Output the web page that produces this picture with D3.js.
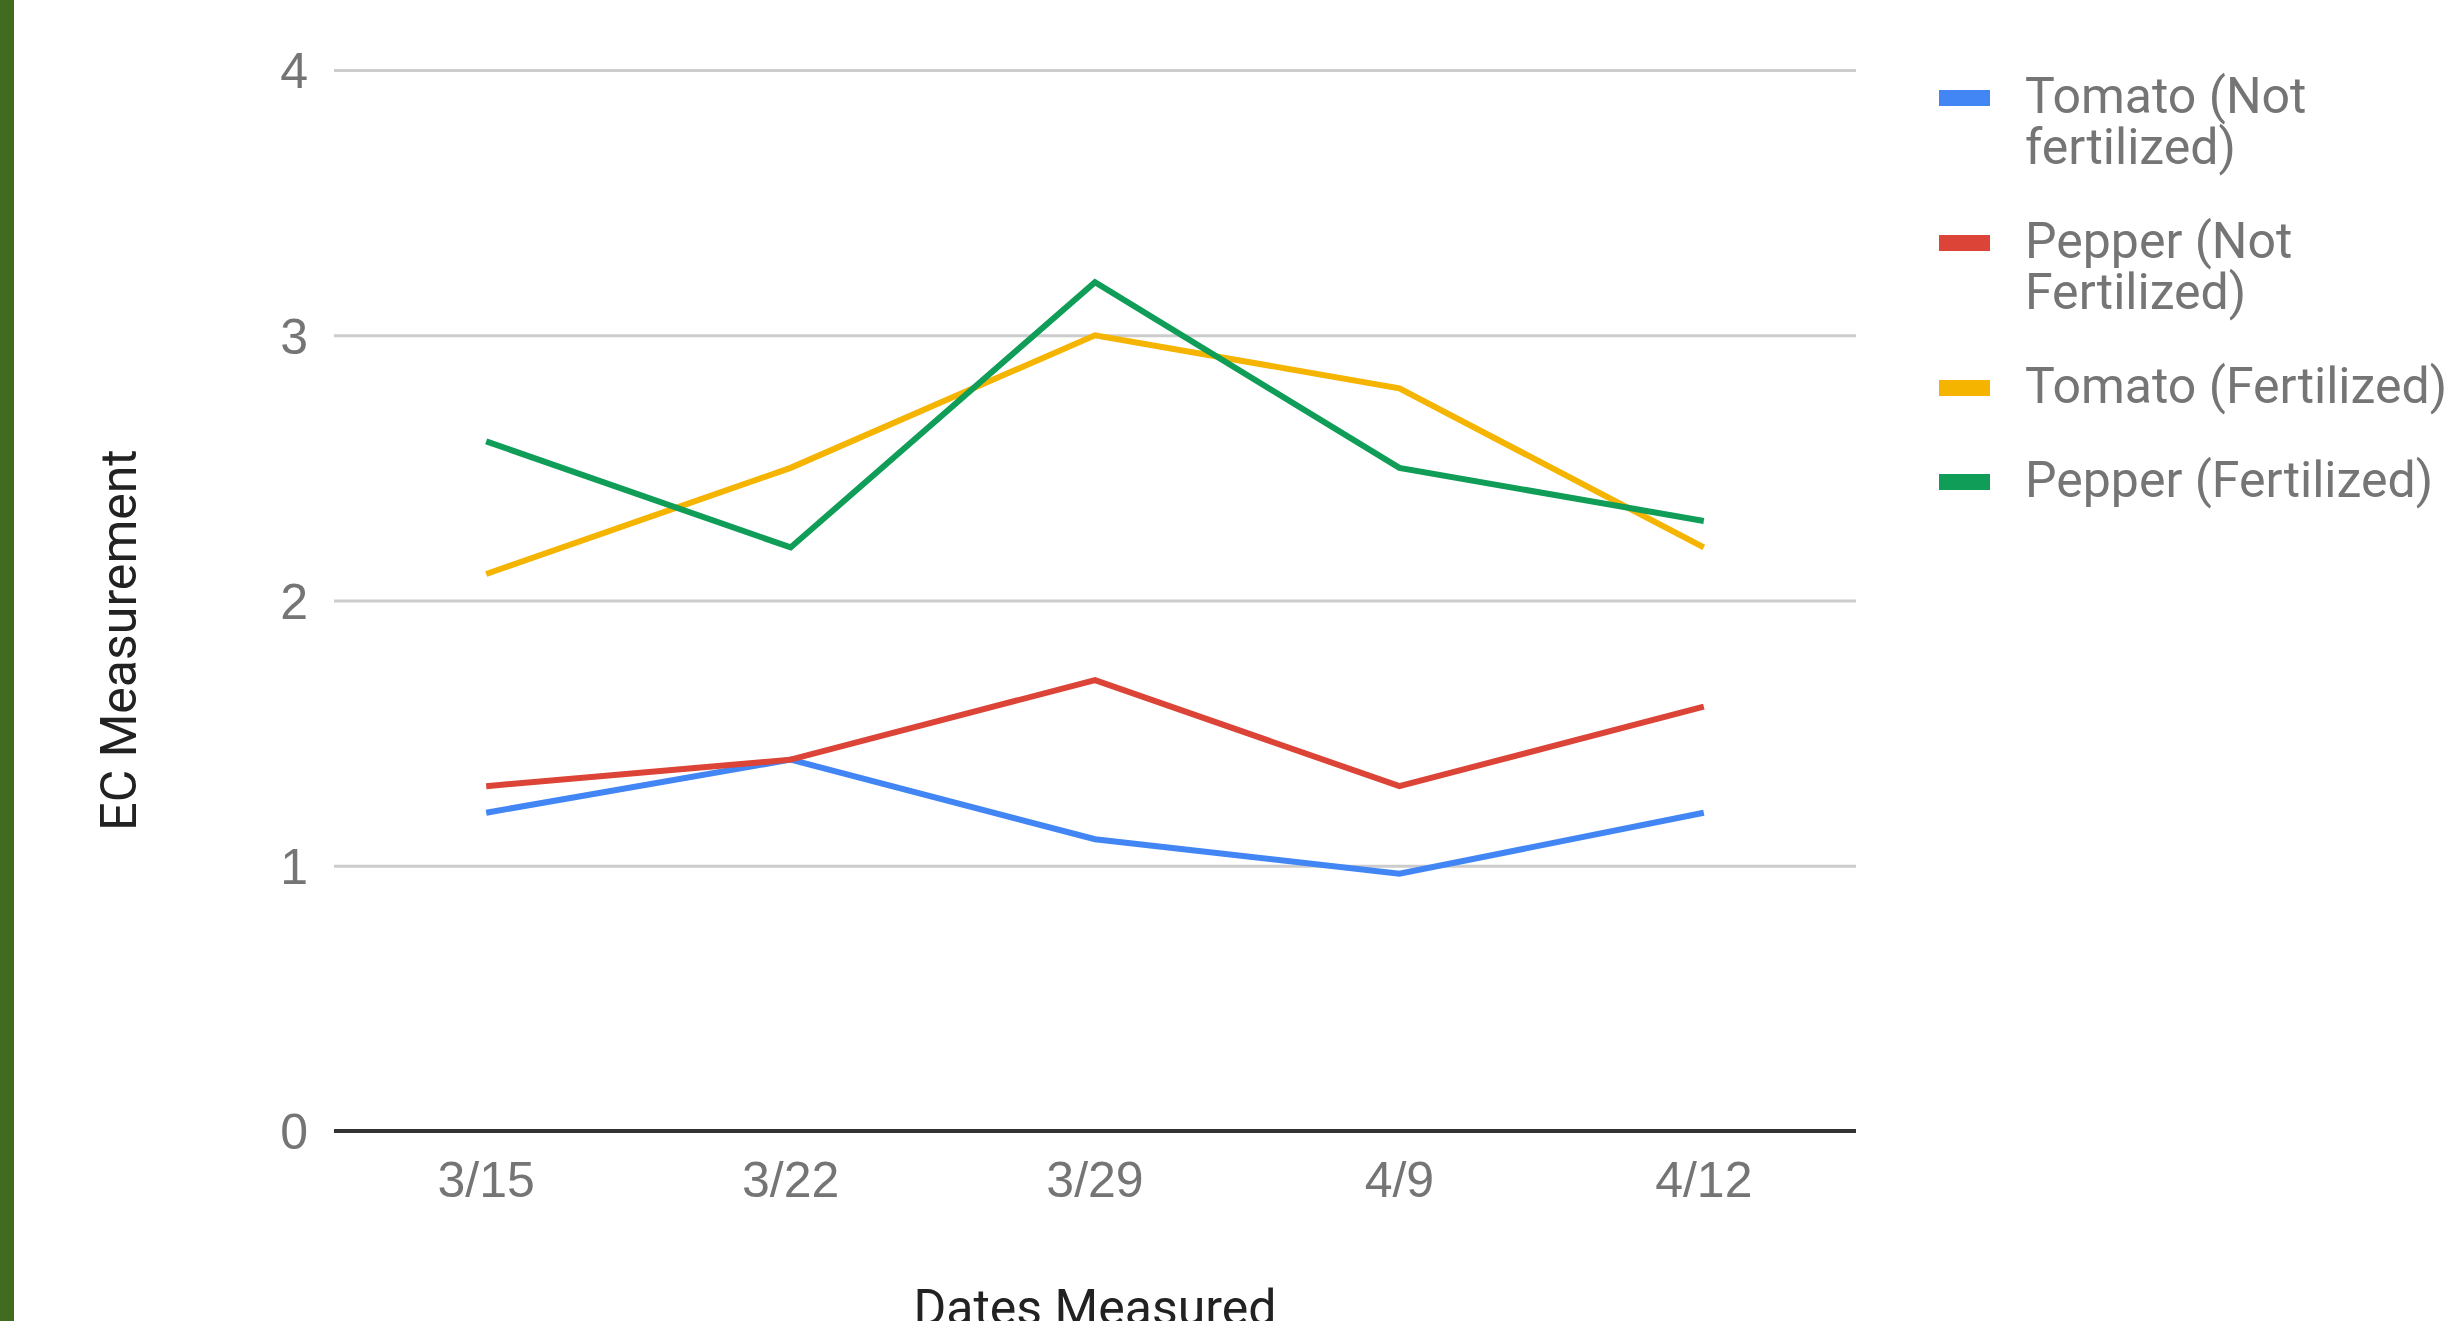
<!DOCTYPE html>
<html>
<head>
<meta charset="utf-8">
<script src="https://cdn.jsdelivr.net/npm/d3@7"></script>
<style>
  html, body { margin: 0; padding: 0; background: #fff; }
  svg { display: block; font-family: Roboto, "Noto Sans", Arial, sans-serif; }
</style>
</head>
<body>
<svg id="chart" width="2462" height="1321"></svg>
<script>
// EC readings per measurement date
const dates = ["3/15", "3/22", "3/29", "4/9", "4/12"];
const tomatoNotFertilized = [1.2, 1.4, 1.1, 0.97, 1.2];
const pepperNotFertilized = [1.3, 1.4, 1.7, 1.3, 1.6];
const tomatoFertilized = [2.1, 2.5, 3.0, 2.8, 2.2];
const pepperFertilized = [2.6, 2.2, 3.2, 2.5, 2.3];
const seriesNames = ["Tomato (Not fertilized)", "Pepper (Not Fertilized)", "Tomato (Fertilized)", "Pepper (Fertilized)"];
const seriesColors = ["#4285F4", "#DB4437", "#F4B400", "#0F9D58"];
const yTicks = [0, 1, 2, 3, 4];

const series = [tomatoNotFertilized, pepperNotFertilized, tomatoFertilized, pepperFertilized]
  .map((values, i) => ({ name: seriesNames[i], color: seriesColors[i], values }));

const svg = d3.select("#chart");
const plot = { left: 334, right: 1856, top: 70, bottom: 1131 };

// side accent strip
svg.append("rect").attr("x", 0).attr("y", 0).attr("width", 14).attr("height", 1321).attr("fill", "#416b1f");

const x = d3.scaleBand().domain(dates).range([plot.left, plot.right]).padding(0);
const y = d3.scaleLinear().domain([0, 4]).range([plot.bottom, plot.top]);
const cx = d => x(d) + x.bandwidth() / 2;

// y axis with gridlines
const yAxis = svg.append("g")
  .attr("transform", `translate(${plot.left},0)`)
  .call(d3.axisLeft(y).tickValues(yTicks).tickFormat(d3.format("d"))
    .tickSize(-(plot.right - plot.left)).tickPadding(26));
yAxis.select(".domain").remove();
yAxis.selectAll(".tick line").attr("stroke", "#cccccc").attr("stroke-width", 3);
yAxis.selectAll(".tick text")
  .attr("fill", "#757575").attr("font-size", 50).attr("dy", "0.355em");
yAxis.selectAll(".tick").filter(d => d === 0).select("line").remove();

// x axis labels
const xAxis = svg.append("g")
  .attr("transform", `translate(0,${plot.bottom})`)
  .call(d3.axisBottom(x).tickSize(0).tickPadding(30.5));
xAxis.select(".domain").remove();
xAxis.selectAll(".tick text").attr("fill", "#757575").attr("font-size", 50);

// series lines
const line = d3.line().x((v, i) => cx(dates[i])).y(v => y(v));
svg.append("g").selectAll("path")
  .data(series)
  .join("path")
  .attr("d", s => line(s.values))
  .attr("fill", "none")
  .attr("stroke", s => s.color)
  .attr("stroke-width", 6);

// baseline at zero
svg.append("line")
  .attr("x1", plot.left).attr("x2", plot.right)
  .attr("y1", y(0)).attr("y2", y(0))
  .attr("stroke", "#333333").attr("stroke-width", 4);

// axis titles
svg.append("text")
  .attr("transform", "translate(136,640) rotate(-90)")
  .attr("text-anchor", "middle")
  .attr("font-size", 50)
  .attr("fill", "#222222")
  .text("EC Measurement");

svg.append("text")
  .attr("x", (plot.left + plot.right) / 2)
  .attr("y", 1325)
  .attr("text-anchor", "middle")
  .attr("font-size", 50)
  .attr("fill", "#222222")
  .text("Dates Measured");

// legend with wrapped labels
const legend = svg.append("g");
const textX = 2025, maxWidth = 437, lineStep = 51, itemGap = 94;
let baseline = 113;
series.forEach(s => {
  const words = s.name.split(" ");
  const t = legend.append("text").attr("font-size", 50).attr("fill", "#757575");
  const lines = [];
  let current = [];
  words.forEach(w => {
    const trial = current.concat(w).join(" ");
    t.text(trial);
    if (current.length && t.node().getComputedTextLength() > maxWidth) {
      lines.push(current.join(" "));
      current = [w];
    } else {
      current.push(w);
    }
  });
  lines.push(current.join(" "));
  t.text(null);
  lines.forEach((l, i) => {
    t.append("tspan").attr("x", textX).attr("y", baseline + i * lineStep).text(l);
  });
  legend.append("rect")
    .attr("x", 1939).attr("y", baseline - 15 - 8)
    .attr("width", 51).attr("height", 16)
    .attr("fill", s.color);
  baseline += (lines.length - 1) * lineStep + itemGap;
});
</script>
</body>
</html>
